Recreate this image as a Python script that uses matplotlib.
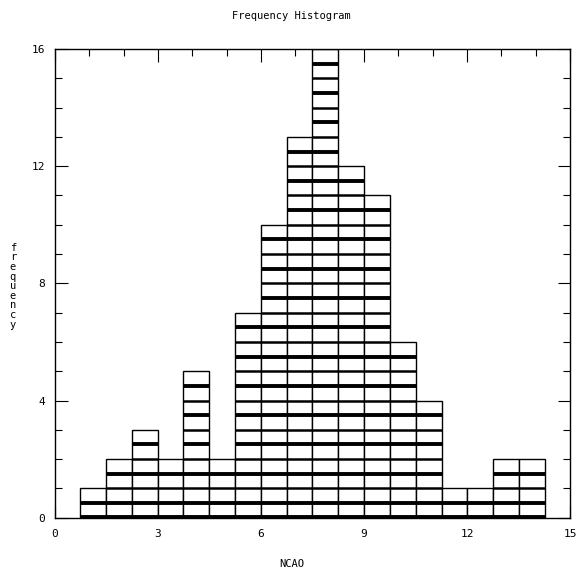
import numpy as np
import matplotlib
matplotlib.use("Agg")
import matplotlib.pyplot as plt
from matplotlib.ticker import MultipleLocator

# ── Data ──────────────────────────────────────────────────────────────────────
counts    = [1, 2, 3, 2, 5, 2, 7, 10, 13, 16, 12, 11, 6, 4, 1, 1, 2, 2]
bin_start = 0.73
bin_width = 0.752
edges     = bin_start + bin_width * np.arange(len(counts))

FONT = "DejaVu Sans Mono"

fig = plt.figure(figsize=(5.83, 5.78), dpi=100)
ax = fig.add_axes([0.0943, 0.1043, 0.8834, 0.8109])

# bars: white stack with black bands every half unit
ax.bar(edges, counts, width=bin_width, align="edge",
       facecolor="white", edgecolor="black", linewidth=1.0, zorder=2)
for x0, h in zip(edges, counts):
    for k in np.arange(0.5, h, 0.5):
        thick = (k % 1) != 0
        ax.hlines(k, x0, x0 + bin_width, color="black",
                  lw=2.8 if thick else 1.8, zorder=3)
    ax.hlines(0.04, x0, x0 + bin_width, color="black", lw=2.8, zorder=3)

ax.set_xlim(0, 15)
ax.set_ylim(0, 16)
ax.xaxis.set_major_locator(MultipleLocator(3))
ax.xaxis.set_minor_locator(MultipleLocator(1))
ax.yaxis.set_major_locator(MultipleLocator(4))
ax.yaxis.set_minor_locator(MultipleLocator(1))
ax.tick_params(which="both", direction="in", top=True, right=True,
               width=0.8, colors="black")
ax.tick_params(which="major", length=9)
ax.tick_params(which="minor", length=5)
ax.tick_params(axis="x", pad=8)
ax.tick_params(axis="y", pad=7)
for lab in ax.get_xticklabels() + ax.get_yticklabels():
    lab.set_fontfamily(FONT)
    lab.set_fontsize(8)
for s in ax.spines.values():
    s.set_linewidth(1.0)

fig.text(0.5, 0.972, "Frequency Histogram", ha="center", va="center",
         family=FONT, fontsize=7.5)
fig.text(0.5, 0.025, "NCAO", ha="center", va="center",
         family=FONT, fontsize=7.5)
fig.text(0.022, 0.505, "\n".join("frequency"), ha="center", va="center",
         family=FONT, fontsize=7.5, linespacing=0.95)

plt.savefig("out.png", dpi=100)
